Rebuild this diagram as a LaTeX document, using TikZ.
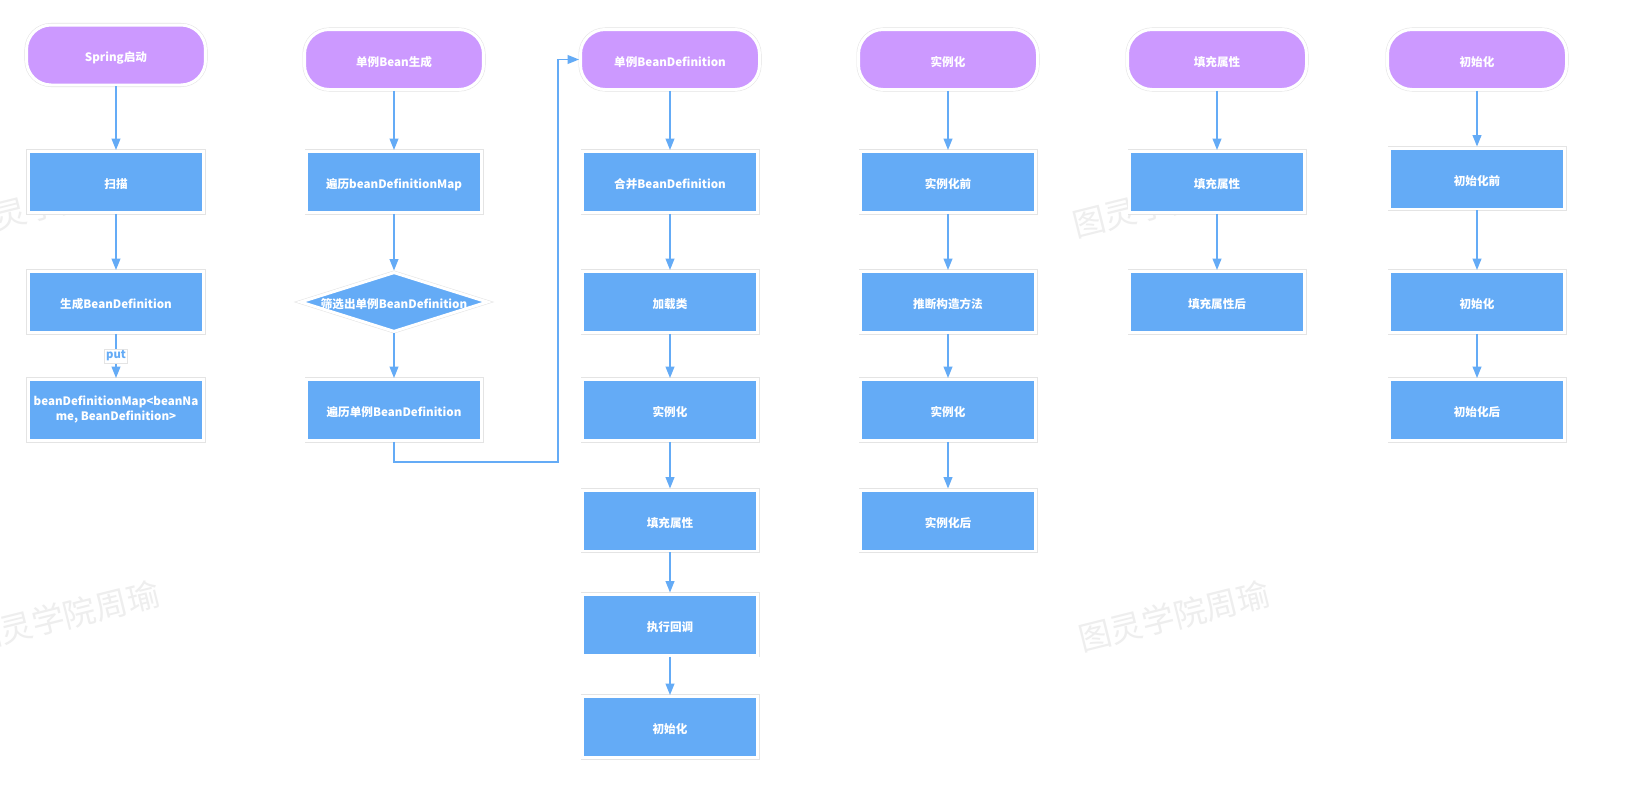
\documentclass[tikz,border=0pt]{standalone}
\usepackage{fontspec}
\setmainfont{Noto Sans CJK SC}
\usetikzlibrary{shapes.geometric,arrows.meta}

\definecolor{termpurple}{RGB}{204,153,255}
\definecolor{boxblue}{RGB}{100,171,246}
\definecolor{rimgray}{RGB}{228,228,228}
\definecolor{markgray}{RGB}{238,238,238}

\begin{document}
\begin{tikzpicture}[x=0.02cm,y=-0.02cm,
  rim/.style={preaction={draw=rimgray,line width=2.3pt},draw=white,line width=1.7pt},
  boxfont/.style={text=white,font=\bfseries\fontsize{6.6}{8.5}\selectfont},
  oneline/.style={text height=7.4pt,text depth=0pt},
  terminal/.style={rectangle,rim,rounded corners=14pt,fill=termpurple,
    minimum width=3.58cm,minimum height=1.2cm,inner sep=0pt,boxfont,oneline},
  boxbase/.style={rectangle,rim,fill=boxblue,minimum width=3.5cm,minimum height=1.22cm,
    inner sep=0pt,align=center,boxfont},
  stepbox/.style={boxbase,oneline},
  choice/.style={diamond,rim,fill=boxblue,aspect=3.2,minimum width=3.76cm,
    minimum height=1.2cm,inner sep=0pt,boxfont,oneline},
  flow/.style={draw=boxblue,line width=0.85pt,-{Triangle[length=6.5pt,width=5pt]}},
  putlabel/.style={fill=white,draw=rimgray,line width=0.3pt,inner sep=1pt,text=boxblue,
    font=\bfseries\fontsize{6.4}{7}\selectfont},
  wmark/.style={text=markgray,rotate=14,font=\fontsize{18.5}{20}\selectfont}]

  \useasboundingbox[fill=white] (0,0) rectangle (1642,795);

  % watermarks behind everything
  \node[wmark] (wm1) at (58,202) {图灵学院周瑜};
  \node[wmark] (wm2) at (1168,202) {图灵学院周瑜};
  \node[wmark] (wm3) at (64,616) {图灵学院周瑜};
  \node[wmark] (wm4) at (1174,616) {图灵学院周瑜};

  % spring start
  \node[terminal] (springstart) at (116,55) {Spring启动};
  \node[stepbox] (scan) at (116,182) {扫描};
  \node[stepbox] (gendef) at (116,302) {生成BeanDefinition};
  \node[boxbase] (defmap) at (116,410)
    {\raisebox{-1.2pt}{\begin{tabular}{@{}c@{}}beanDefinitionMap<beanNa\\me, BeanDefinition>\end{tabular}}};

  % singleton bean creation
  \node[terminal] (beanstart) at (394,59.5) {单例Bean生成};
  \node[stepbox] (walkmap) at (394,182) {遍历beanDefinitionMap};
  \node[choice] (picksingle) at (394,302) {筛选出单例BeanDefinition};
  \node[stepbox] (walksingle) at (394,410) {遍历单例BeanDefinition};

  % singleton bean definition
  \node[terminal] (defstart) at (670,59.5) {单例BeanDefinition};
  \node[stepbox] (mergedef) at (670,182) {合并BeanDefinition};
  \node[stepbox] (loadclass) at (670,302) {加载类};
  \node[stepbox] (newinst) at (670,410) {实例化};
  \node[stepbox] (fillprop) at (670,520.5) {填充属性};
  \node[stepbox] (callback) at (670,624.5) {执行回调};
  \node[stepbox] (initbean) at (670,727) {初始化};

  % instantiation
  \node[terminal] (inststart) at (948,59.5) {实例化};
  \node[stepbox] (preinst) at (948,182) {实例化前};
  \node[stepbox] (findctor) at (948,302) {推断构造方法};
  \node[stepbox] (doinst) at (948,410) {实例化};
  \node[stepbox] (postinst) at (948,520.5) {实例化后};

  % property filling
  \node[terminal] (fillstart) at (1217,59.5) {填充属性};
  \node[stepbox] (dofill) at (1217,182) {填充属性};
  \node[stepbox] (postfill) at (1217,302) {填充属性后};

  % initialization
  \node[terminal] (initstart) at (1477,59.5) {初始化};
  \node[stepbox] (preinit) at (1477,178.5) {初始化前};
  \node[stepbox] (doinit) at (1477,302) {初始化};
  \node[stepbox] (postinit) at (1477,410) {初始化后};

  % straight arrows down each column
  \foreach \a/\b in {springstart/scan,scan/gendef,
                     beanstart/walkmap,walkmap/picksingle,picksingle/walksingle,
                     defstart/mergedef,mergedef/loadclass,loadclass/newinst,
                     newinst/fillprop,fillprop/callback,callback/initbean,
                     inststart/preinst,preinst/findctor,findctor/doinst,doinst/postinst,
                     fillstart/dofill,dofill/postfill,
                     initstart/preinit,preinit/doinit,doinit/postinit}
  {
       \draw[flow] (\a) -- (\b);
  }

  \draw[flow] (gendef) -- node[putlabel] {put} (defmap);

  % loop over to the next column
  \coordinate (bend) at (558,462);
  \draw[flow] (walksingle.south) |- (bend) |- (defstart.west);
\end{tikzpicture}
\end{document}
